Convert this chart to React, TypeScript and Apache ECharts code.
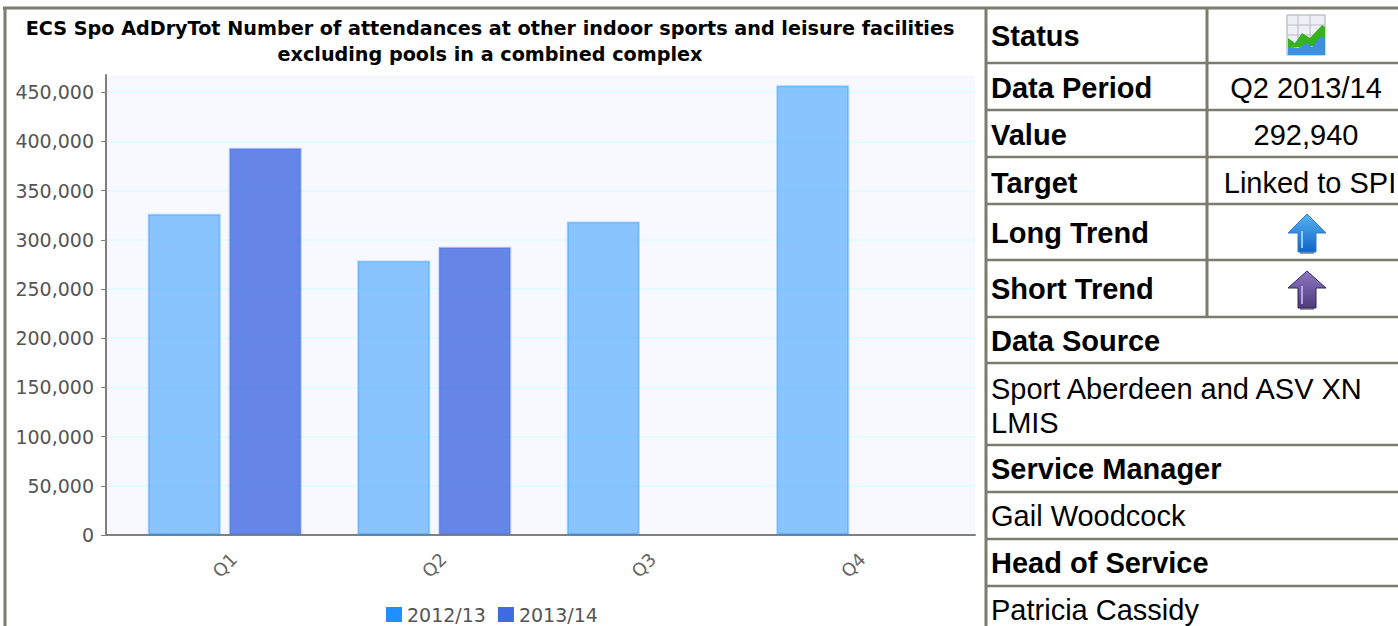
import React, { useEffect, useRef } from "react";
import * as echarts from "echarts";

const quarters = ["Q1", "Q2", "Q3", "Q4"];
const values2012 = [326500, 279000, 318500, 457000];
const values2013 = [393500, 292940, null, null];
const yearNames = ["2012/13", "2013/14"];
const yTicks = [0, 50000, 100000, 150000, 200000, 250000, 300000, 350000, 400000, 450000];
const yTop = 467500;
const titleLines = [
  "ECS Spo AdDryTot Number of attendances at other indoor sports and leisure facilities",
  "excluding pools in a combined complex",
];
const keyLabels = ["Status", "Data Period", "Value", "Target", "Long Trend", "Short Trend"];
const keyValues = ["", "Q2 2013/14", "292,940", "Linked to SPI", "", ""];
const infoTexts = [
  "Data Source",
  "Sport Aberdeen and ASV XN",
  "LMIS",
  "Service Manager",
  "Gail Woodcock",
  "Head of Service",
  "Patricia Cassidy",
];

// Table layout
const keyRowY = [36, 88, 135, 183, 233, 289];
const keyValueX = [1306, 1306, 1306, 1310, 1306, 1306];
const infoRowY = [341, 389, 423, 469, 516, 563, 610];
const infoBold = [true, false, false, true, false, true, false];
const rowLines = [8, 63, 110, 157, 204, 260, 317, 363, 445, 492, 539, 586];

const RULE = "#7b7b6f";
const CHART_FONT = "'DejaVu Sans', sans-serif";
const TABLE_FONT = "'Liberation Sans', Arial, sans-serif";

// Up arrow built from a tip, two wings and a shaft, with a shine stripe and a soft foot.
function arrow(cx: number, tip: number, wing: number, bottom: number, top: string, low: string, edge: string, shine: string) {
  return [
    {
      type: "rect",
      shape: { x: cx - 7, y: bottom, width: 14, height: 2 },
      style: { fill: "#9a9a9a" },
    },
    {
      type: "polygon",
      shape: {
        points: [
          [cx, tip],
          [cx + 19, wing],
          [cx + 9, wing],
          [cx + 9, bottom],
          [cx - 9, bottom],
          [cx - 9, wing],
          [cx - 19, wing],
        ],
      },
      style: {
        fill: new echarts.graphic.LinearGradient(0, 0, 0, 1, [
          { offset: 0, color: top },
          { offset: 1, color: low },
        ]),
        stroke: edge,
        lineWidth: 1,
      },
    },
    {
      type: "rect",
      shape: { x: cx - 6, y: wing - 2, width: 2, height: bottom - wing - 2 },
      style: { fill: shine },
    },
  ];
}

function statusIcon() {
  const items: any[] = [
    { type: "rect", shape: { x: 1287, y: 15, width: 38, height: 40 }, style: { fill: "#eef0f6", stroke: "#a7a7b5", lineWidth: 1 } },
  ];
  [1298, 1310].forEach((x) =>
    items.push({ type: "line", shape: { x1: x, y1: 15, x2: x, y2: 40 }, style: { stroke: "#b9bac8", lineWidth: 1 } })
  );
  [25, 35].forEach((y) =>
    items.push({ type: "line", shape: { x1: 1287, y1: y, x2: 1325, y2: y }, style: { stroke: "#b9bac8", lineWidth: 1 } })
  );
  items.push({
    type: "polygon",
    shape: { points: [[1288, 38], [1295, 43], [1302, 33], [1310, 38], [1322, 25], [1325, 27], [1325, 45], [1288, 48]] },
    style: { fill: "#37b21f" },
  });
  items.push({
    type: "polygon",
    shape: { points: [[1288, 47], [1298, 48], [1307, 43], [1312, 47], [1320, 37], [1325, 38], [1325, 55], [1288, 55]] },
    style: { fill: "#3d8fe0" },
  });
  return items;
}

function tableGraphics() {
  const items: any[] = [];
  rowLines.forEach((y, i) =>
    items.push({
      type: "line",
      shape: { x1: i === 0 ? 3 : 986, y1: y, x2: 1398, y2: y },
      style: { stroke: RULE, lineWidth: i === 0 ? 3 : 2.5 },
    })
  );
  [
    [5, 8, 626],
    [986, 8, 626],
    [1207, 8, 318],
  ].forEach(([x, y1, y2]) =>
    items.push({ type: "line", shape: { x1: x, y1, x2: x, y2 }, style: { stroke: RULE, lineWidth: 3 } })
  );
  keyLabels.forEach((name, i) => {
    items.push({
      type: "text",
      x: 991,
      y: keyRowY[i],
      style: { text: name, font: `bold 29px ${TABLE_FONT}`, fill: "#000", verticalAlign: "middle" },
    });
    if (keyValues[i])
      items.push({
        type: "text",
        x: keyValueX[i],
        y: keyRowY[i],
        style: { text: keyValues[i], font: `29px ${TABLE_FONT}`, fill: "#000", align: "center", verticalAlign: "middle" },
      });
  });
  infoTexts.forEach((text, i) =>
    items.push({
      type: "text",
      x: 991,
      y: infoRowY[i],
      style: { text, font: `${infoBold[i] ? "bold " : ""}29px ${TABLE_FONT}`, fill: "#000", verticalAlign: "middle" },
    })
  );
  items.push(...statusIcon());
  items.push(...arrow(1307, 214, 233, 252, "#58b4f4", "#1064c4", "#2f79c9", "#8fd0fa"));
  items.push(...arrow(1307, 271, 288, 308, "#8f78c8", "#4d3c78", "#35265c", "#b6a5e0"));
  titleLines.forEach((text, i) =>
    items.push({
      type: "text",
      x: 490,
      y: i === 0 ? 28 : 54,
      style: { text, font: `bold 19.2px ${CHART_FONT}`, fill: "#000", align: "center", verticalAlign: "middle" },
    })
  );
  return items;
}

export default function App() {
  const ref = useRef<HTMLDivElement>(null);

  useEffect(() => {
    document.body.style.margin = "0";
    const chart = echarts.init(ref.current!, undefined, { renderer: "svg" });
    const scale = { type: "value" as const, min: 0, max: yTop, interval: 50000 };
    chart.setOption({
      animation: false,
      backgroundColor: "#fff",
      legend: {
        left: 386,
        top: 605,
        padding: 0,
        itemWidth: 16,
        itemHeight: 15,
        itemGap: 12,
        selectedMode: false,
        textStyle: { fontFamily: CHART_FONT, fontSize: 19, color: "#555" },
        data: [
          { name: yearNames[0], icon: "rect", itemStyle: { color: "#1e90ff", opacity: 1, borderWidth: 0 } },
          { name: yearNames[1], icon: "rect", itemStyle: { color: "#4169e1", opacity: 1, borderWidth: 0 } },
        ],
      },
      grid: [
        // Plot background and value axis
        { left: 106, top: 75, width: 869, height: 460, show: true, backgroundColor: "#f7f9ff", borderWidth: 0 },
        // Quarter bands, inset from the plot edges
        { left: 120, top: 75, width: 838, height: 460, borderWidth: 0 },
      ],
      xAxis: [
        {
          gridIndex: 0,
          type: "category",
          data: quarters,
          axisLine: { lineStyle: { color: "#808080", width: 2 } },
          axisTick: { show: false },
          axisLabel: { show: false },
        },
        {
          gridIndex: 1,
          type: "category",
          data: quarters,
          axisLine: { show: false },
          axisTick: { alignWithLabel: true, length: 5, lineStyle: { color: "#808080" } },
          axisLabel: {
            rotate: 45,
            align: "center",
            verticalAlign: "middle",
            margin: 30,
            fontFamily: CHART_FONT,
            fontSize: 18,
            color: "#666",
            interval: 0,
          },
        },
      ],
      yAxis: [
        {
          ...scale,
          gridIndex: 0,
          axisLine: { show: true, lineStyle: { color: "#808080", width: 2 } },
          axisTick: { show: true, length: 5, lineStyle: { color: "#808080" }, customValues: yTicks },
          axisLabel: {
            customValues: yTicks,
            margin: 12,
            fontFamily: CHART_FONT,
            fontSize: 19,
            color: "#555",
            formatter: (v: number) => v.toLocaleString("en-GB"),
          },
          splitLine: { show: true, lineStyle: { color: "#e6fbff", width: 2 } },
        },
        { ...scale, gridIndex: 1, show: false, splitLine: { show: false } },
      ],
      graphic: { elements: tableGraphics() },
      series: [
        {
          name: yearNames[0],
          type: "bar",
          xAxisIndex: 1,
          yAxisIndex: 1,
          data: values2012,
          barWidth: 73,
          barGap: "11%",
          itemStyle: { color: "rgba(30,144,255,0.5)", borderColor: "rgba(30,144,255,0.35)", borderWidth: 2 },
        },
        {
          name: yearNames[1],
          type: "bar",
          xAxisIndex: 1,
          yAxisIndex: 1,
          data: values2013,
          barWidth: 73,
          barGap: "11%",
          itemStyle: { color: "rgba(65,105,225,0.8)", borderColor: "rgba(65,105,225,0.3)", borderWidth: 2 },
        },
      ],
    });
    return () => chart.dispose();
  }, []);

  return <div ref={ref} style={{ position: "absolute", left: 0, top: 0, width: 1398, height: 626 }} />;
}
